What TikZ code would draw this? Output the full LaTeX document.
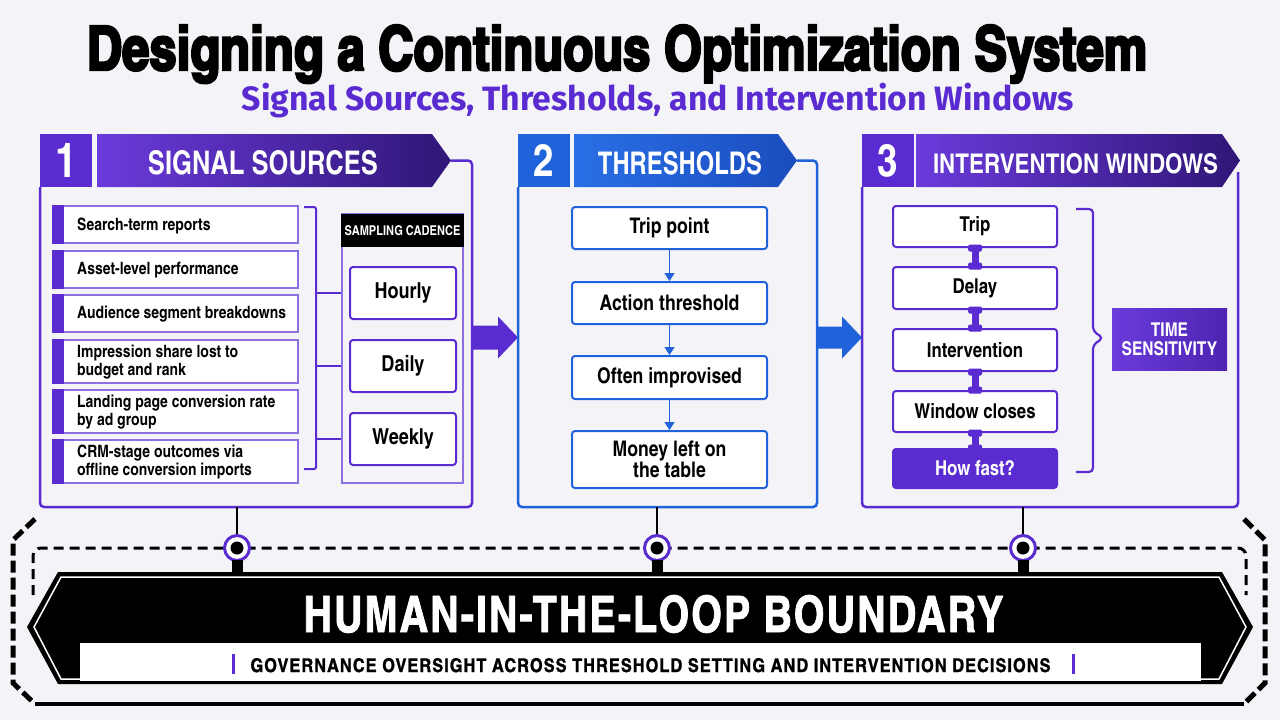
\documentclass[tikz,border=0pt]{standalone}
\usepackage{fontspec}
\usepackage{graphicx}
\usetikzlibrary{arrows.meta,calc}
\setmainfont{Liberation Sans}
\newfontfamily\cnb{texgyreheroscn-bold.otf}
\newfontfamily\heavyf[FakeBold=4]{texgyreheroscn-bold.otf}
\newfontfamily\bannerf[LetterSpace=4,FakeBold=1.5]{texgyreheroscn-bold.otf}
\newfontfamily\spacedf[LetterSpace=5,FakeBold=1]{texgyreheroscn-bold.otf}
\newfontfamily\subf{Fira Sans}
\definecolor{bg}{HTML}{F4F4F8}
\definecolor{purp}{HTML}{5A2BD0}
\definecolor{purpL}{HTML}{6B3BDB}
\definecolor{purpD}{HTML}{2F1677}
\definecolor{purpR}{HTML}{8C6FE0}
\definecolor{blu}{HTML}{1F62DA}
\definecolor{bluD}{HTML}{1A4DBE}
\definecolor{bluL}{HTML}{2A6FE6}
\newcommand\ibeamconn[2]{%
  \draw[purp, line width=7pt] (#1.south) -- (#2.north);
  \fill[purp, rounded corners=1.5pt] ($(#1.south)+(-7,-3.5)$) rectangle ($(#1.south)+(7,3.5)$);
  \fill[purp, rounded corners=1.5pt] ($(#2.north)+(-7,-3.5)$) rectangle ($(#2.north)+(7,3.5)$);}
\tikzset{
  numsq/.style={minimum width=52pt, minimum height=53pt, inner sep=0pt, text=white},
  hdrtxt/.style={anchor=base, inner sep=0pt, text=white},
  rowbox/.style={draw=purpR, line width=1.3pt, fill=white, minimum width=245pt, inner sep=0pt},
  rowtxt/.style={anchor=west, inner sep=0pt, align=left, font=\cnb\fontsize{17}{17.5}\selectfont},
  cbox/.style={draw=purp, line width=2pt, rounded corners=3pt, fill=white, minimum width=106pt, minimum height=52pt, inner sep=0pt, font=\cnb\fontsize{22}{22}\selectfont},
  tbox/.style={draw=blu, line width=2pt, rounded corners=3pt, fill=white, minimum width=195pt, inner sep=0pt, align=center, font=\cnb\fontsize{21.5}{21.5}\selectfont},
  wbox/.style={draw=purp, line width=2pt, rounded corners=3pt, fill=white, minimum width=164pt, inner sep=0pt, align=center, font=\cnb\fontsize{20.5}{21}\selectfont},
  panelline/.style={line width=2.5pt, rounded corners=4pt},
  hub/.style={circle, draw=purp, line width=3pt, fill=white, minimum size=25pt, inner sep=0pt},
  tarrow/.style={blu, line width=1.6pt, -{Triangle[length=8pt,width=10pt]}},
}
\begin{document}
\begin{tikzpicture}[x=1pt,y=-1pt]
\fill[bg] (0,0) rectangle (1280,720);
\useasboundingbox (0,0) rectangle (1280,720);

% ---------- titles
\node[anchor=base, inner sep=0pt] (title) at (617,70) {\resizebox{1060pt}{45pt}{\heavyf Designing a Continuous Optimization System}};
\node[anchor=base, inner sep=0pt, text=purp] (subtitle) at (658,110) {\resizebox{832pt}{!}{\subf\bfseries Signal Sources, Thresholds, and Intervention Windows}};

% ---------- panel 1
\draw[purp, panelline] (451,160.5) -- (472,160.5) -- (472,507) -- (40,507) -- (40,187);
\node[numsq, fill=purp] (n1) at (66,160.5) {\resizebox{!}{34pt}{\cnb 1}};
\shade[left color=purpL, right color=purpD] (97,134) -- (432,134) -- (451,160.5) -- (432,187) -- (97,187) -- cycle;
\node[hdrtxt] (h1) at (263,174) {\resizebox{230pt}{24pt}{\cnb SIGNAL SOURCES}};

\foreach \n/\y/\h in {1/224.5/37, 2/269.5/37, 3/313.5/37, 4/361.5/43, 5/411.5/43, 6/461.5/43}{
  \node[rowbox, minimum height=\h pt] (r\n) at (175.5,\y) {};
  \fill[purp] (r\n.north west) rectangle ($(r\n.south west)+(12,0)$);
}
\node[rowtxt] (l1) at (77,225.5) {Search-term reports};
\node[rowtxt] (l2) at (77,270.5) {Asset-level performance};
\node[rowtxt] (l3) at (77,314.5) {Audience segment breakdowns};
\node[rowtxt] (l4) at (77,362) {Impression share lost to\\budget and rank};
\node[rowtxt] (l5) at (77,412) {Landing page conversion rate\\by ad group};
\node[rowtxt] (l6) at (77,462) {CRM-stage outcomes via\\offline conversion imports};

\node[draw=purpR, line width=1.3pt, minimum width=121pt, minimum height=269pt, inner sep=0pt] (cad) at (402.5,348.5) {};
\node[fill=black, minimum width=123pt, minimum height=33pt, inner sep=0pt, text=white, font=\cnb\fontsize{13.5}{13.5}\selectfont] (cadh) at (402.5,230.5) {SAMPLING CADENCE};
\node[cbox] (hourly) at (403,293) {Hourly};
\node[cbox] (daily) at (403,366) {Daily};
\node[cbox] (weekly) at (403,439) {Weekly};

\draw[purp, line width=2pt, rounded corners=2pt] (304,207) -- (316,207) -- (316,469) -- (304,469);
\coordinate (bk1) at (316,293);
\coordinate (bk2) at (316,366);
\coordinate (bk3) at (316,439);
\foreach \k in {1,2,3}{\draw[purp, line width=2pt] (bk\k) -- (cad.west |- bk\k);}

% arrow 1 -> 2
\coordinate (a1) at (473,337.5);
\fill[purp, shift={(a1)}] (0,-12) -- (25,-12) -- (25,-21) -- (45,0) -- (25,21) -- (25,12) -- (0,12) -- cycle;

% ---------- panel 2
\draw[blu, panelline] (797,160.5) -- (817,160.5) -- (817,507) -- (518,507) -- (518,187);
\node[numsq, fill=blu] (n2) at (544,160.5) {\resizebox{!}{32pt}{\cnb 2}};
\shade[left color=bluL, right color=bluD] (574,134) -- (778,134) -- (797,160.5) -- (778,187) -- (574,187) -- cycle;
\node[hdrtxt] (h2) at (680,174) {\resizebox{164pt}{23pt}{\cnb THRESHOLDS}};

\node[tbox, minimum height=42pt] (t1) at (669.5,228) {Trip point};
\node[tbox, minimum height=42pt] (t2) at (669.5,303) {Action threshold};
\node[tbox, minimum height=43pt] (t3) at (669.5,377.5) {Often improvised};
\node[tbox, minimum height=57pt] (t4) at (669.5,459.5) {Money left on\\the table};
\draw[tarrow] (t1) -- (t2);
\draw[tarrow] (t2) -- (t3);
\draw[tarrow] (t3) -- (t4);

% arrow 2 -> 3
\coordinate (a2) at (818,337.5);
\fill[blu, shift={(a2)}] (0,-11) -- (24,-11) -- (24,-21) -- (44,0) -- (24,21) -- (24,11) -- (0,11) -- cycle;

% ---------- panel 3
\draw[purp, panelline] (1238,172) -- (1238,507) -- (862,507) -- (862,187);
\node[numsq, fill=purp] (n3) at (888,160.5) {\resizebox{!}{32pt}{\cnb 3}};
\shade[left color=purpL, right color=purpD] (916,134) -- (1222,134) -- (1240,160.5) -- (1222,187) -- (916,187) -- cycle;
\node[hdrtxt] (h3) at (1075.5,173) {\resizebox{285pt}{20pt}{\cnb INTERVENTION WINDOWS}};

\node[wbox, minimum height=41pt] (w1) at (975,226.5) {Trip};
\node[wbox, minimum height=42pt] (w2) at (975,288) {Delay};
\node[wbox, minimum height=42pt] (w3) at (975,350) {Intervention};
\node[wbox, minimum height=41pt] (w4) at (975,411.5) {Window closes};
\node[wbox, minimum height=39pt, fill=purp, text=white, draw=purp] (w5) at (975,468.5) {How fast?};
\ibeamconn{w1}{w2}
\ibeamconn{w2}{w3}
\ibeamconn{w3}{w4}
\ibeamconn{w4}{w5}

\draw[purp, line width=2.2pt, rounded corners=4pt] (1076,209) -- (1093,209) -- (1093,331) -- (1103,338) -- (1093,345) -- (1093,472) -- (1076,472);
\node[minimum width=115pt, minimum height=62pt, inner sep=0pt, left color=purpL, right color=purp!85!black, text=white, align=center, font=\cnb\fontsize{19}{19}\selectfont] (ts) at (1169.5,339) {TIME\\SENSITIVITY};

% ---------- bottom boundary
\draw[line width=5pt, dash pattern=on 12pt off 5pt] (35,519) -- (13,540) -- (13,683) -- (35,704);
\draw[line width=5pt, dash pattern=on 12pt off 5pt] (1244,519) -- (1265,540) -- (1265,683) -- (1244,704);
\draw[line width=4pt] (35,704) -- (1244,704);
\draw[line width=3pt, dash pattern=on 10pt off 6pt, rounded corners=8pt] (33,595) -- (33,548) -- (1246,548) -- (1246,595);

\fill[black] (27,627) -- (58,572) -- (1222,572) -- (1253,627) -- (1222,684) -- (58,684) -- cycle;
\draw[white, line width=1.5pt] (34,627) -- (61,577) -- (1219,577) -- (1246,627) -- (1219,679) -- (61,679) -- cycle;
\fill[white] (80,643) rectangle (1201,681);
\node[anchor=base, inner sep=0pt, text=white] (hitl) at (653.5,632) {\resizebox{700pt}{37pt}{\bannerf HUMAN-IN-THE-LOOP BOUNDARY}};
\node[anchor=base, inner sep=0pt] (gov) at (650.5,672) {\resizebox{800pt}{14pt}{\spacedf GOVERNANCE OVERSIGHT ACROSS THRESHOLD SETTING AND INTERVENTION DECISIONS}};
\fill[purp] (231.5,654) rectangle (235,674);
\fill[purp] (1071.5,654) rectangle (1075,674);

\foreach \k/\x in {1/237, 2/657, 3/1023}{
  \coordinate (pb\k) at (\x,507);
  \node[hub] (hub\k) at (\x,548) {};
  \draw[line width=1.5pt] (pb\k) -- (hub\k);
  \fill[black] (hub\k) circle (6.5pt);
  \fill[black] ($(hub\k)+(-5.5,12)$) rectangle ($(hub\k)+(5.5,25)$);
}
\end{tikzpicture}
\end{document}
